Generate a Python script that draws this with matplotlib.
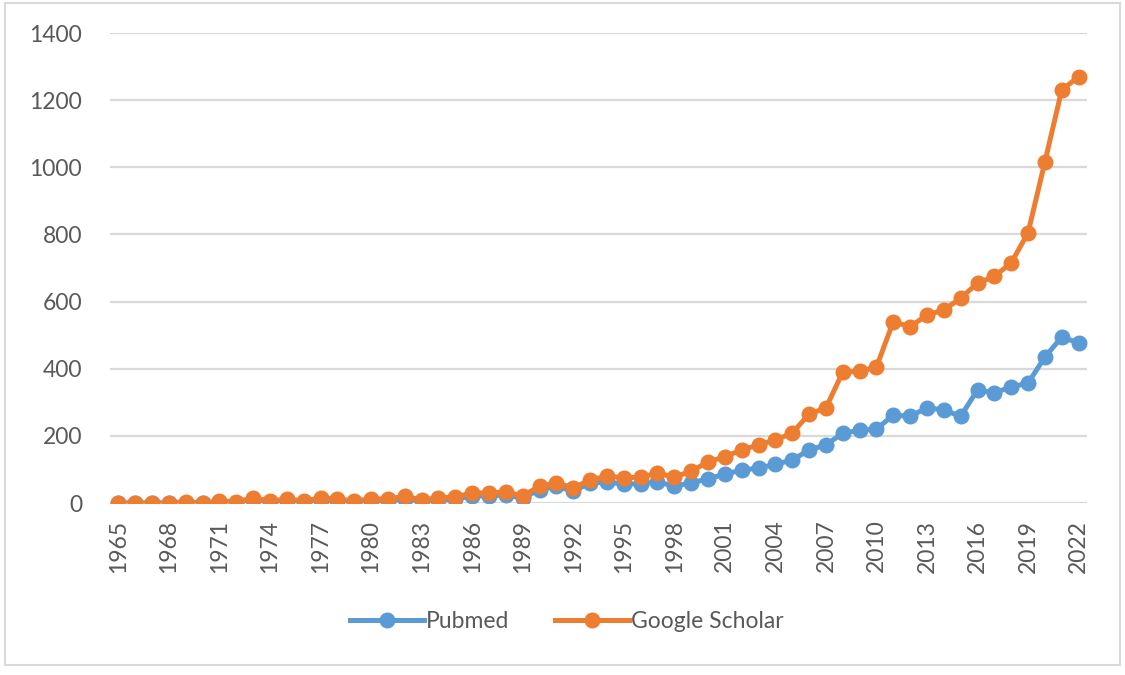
import matplotlib.pyplot as plt
from matplotlib.patches import Rectangle

years = list(range(1965, 2023))
pubmed = [0, 0, 0, 0, 1, 0, 3, 1, 10, 3,
          5, 3, 8, 6, 3, 6, 7, 12, 6, 8,
          12, 20, 22, 24, 15, 40, 50, 35, 60, 62,
          57, 57, 63, 50, 60, 72, 86, 98, 104, 115,
          128, 158, 173, 208, 217, 220, 262, 258, 284, 277,
          258, 337, 328, 346, 357, 435, 494, 477]
scholar = [0, 0, 0, 0, 4, 0, 6, 4, 15, 6,
           12, 6, 15, 12, 6, 12, 12, 20, 10, 15,
           18, 30, 30, 33, 21, 50, 60, 45, 69, 80,
           75, 77, 89, 77, 95, 122, 138, 158, 173, 188,
           208, 265, 283, 390, 392, 405, 540, 525, 560, 575,
           610, 655, 675, 715, 805, 1016, 1230, 1270]
tick_years = years[::3]
y_ticks = [0, 200, 400, 600, 800, 1000, 1200, 1400]

plt.rcParams['font.family'] = ['Lato', 'DejaVu Sans']
fig = plt.figure(figsize=(11.25, 6.75), dpi=100)
ax = fig.add_axes([110 / 1125, 1 - 503 / 675, 977 / 1125, 470 / 675])

ax.plot(years, pubmed, color='#5B9BD5', linewidth=3.6, marker='o', markersize=10.5, label='Pubmed', zorder=3)
ax.plot(years, scholar, color='#ED7D31', linewidth=3.6, marker='o', markersize=10.5, label='Google Scholar', zorder=4)

ax.set_xlim(1964.5, 2022.5)
ax.set_ylim(0, 1400)
ax.set_yticks(y_ticks)
ax.set_yticklabels([str(v) for v in y_ticks])
ax.set_xticks(tick_years)
ax.set_xticklabels([str(y) for y in tick_years], rotation=90)
ax.tick_params(axis='both', length=0, labelsize=16.5, labelcolor='#595959')
ax.tick_params(axis='y', pad=20)
ax.tick_params(axis='x', pad=12)
ax.grid(axis='y', color='#D9D9D9', linewidth=1.6)
ax.set_axisbelow(True)
for s in ax.spines.values():
    s.set_visible(False)

fig.legend(loc='center', bbox_to_anchor=(567 / 1125, 1 - 622 / 675), ncol=2, frameon=False,
           fontsize=16.5, labelcolor='#595959', handlelength=3.2, handletextpad=0.1, columnspacing=2.0)

fig.patches.append(Rectangle((5 / 1125, 1 - 665 / 675), 1115 / 1125, 662 / 675, transform=fig.transFigure,
                             fill=False, edgecolor='#D9D9D9', linewidth=1.5))

fig.savefig('out.png', dpi=100)
